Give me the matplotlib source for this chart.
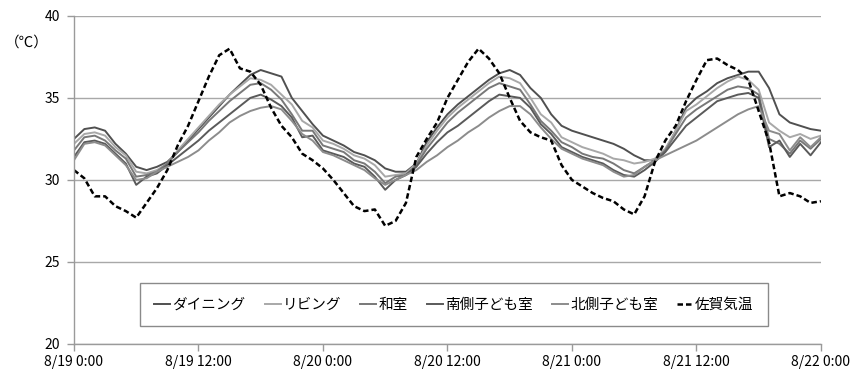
import matplotlib
from matplotlib import pyplot as plt
import numpy as np

matplotlib.rcParams['font.family'] = ['Noto Sans CJK JP', 'DejaVu Sans']

# 8/19 0:00 からの経過時間 [h]（1時間ごと）
hours = np.arange(73)
tick_hours = [0, 12, 24, 36, 48, 60, 72]
tick_labels = ["8/19 0:00", "8/19 12:00", "8/20 0:00", "8/20 12:00",
               "8/21 0:00", "8/21 12:00", "8/22 0:00"]

dining = [32.5, 33.1, 33.2, 33.0, 32.2, 31.6, 30.8, 30.6, 30.8, 31.1,
          31.7, 32.4, 33.1, 33.8, 34.5, 35.2, 35.8, 36.4, 36.7, 36.5,
          36.3, 35.0, 34.2, 33.4, 32.7, 32.4, 32.1, 31.7, 31.5, 31.2,
          30.7, 30.5, 30.5, 31.0, 32.3, 33.2, 34.0, 34.6, 35.1, 35.6,
          36.1, 36.5, 36.7, 36.4, 35.6, 35.0, 34.0, 33.3, 33.0, 32.8,
          32.6, 32.4, 32.2, 31.9, 31.5, 31.2, 31.2, 31.8, 33.0, 34.4,
          35.0, 35.4, 35.9, 36.2, 36.4, 36.6, 36.6, 35.6, 34.0, 33.5,
          33.3, 33.1, 33.0]
living = [32.2, 32.8, 32.9, 32.7, 32.0, 31.5, 30.5, 30.4, 30.6, 31.0,
          31.8, 32.5, 33.2, 33.9, 34.6, 35.2, 35.7, 36.2, 36.1, 35.8,
          35.2, 34.6, 33.6, 33.2, 32.4, 32.2, 31.9, 31.5, 31.3, 30.9,
          30.2, 30.3, 30.4, 31.0, 32.1, 33.0, 33.8, 34.4, 34.9, 35.4,
          35.9, 36.3, 36.2, 35.9, 35.0, 34.0, 33.5, 32.6, 32.3, 32.0,
          31.8, 31.6, 31.3, 31.2, 31.0, 31.1, 31.3, 31.9, 33.0, 34.2,
          34.6, 35.1, 35.6, 36.0, 36.3, 36.1, 35.5, 33.5, 33.0, 32.6,
          32.8, 32.5, 32.7]
washitsu = [31.8, 32.6, 32.7, 32.4, 31.8, 31.3, 30.2, 30.3, 30.5, 31.0,
            31.7, 32.3, 32.9, 33.6, 34.2, 34.8, 35.3, 35.8, 35.9, 35.5,
            34.9, 34.0, 33.0, 33.0, 32.1, 31.9, 31.7, 31.2, 31.0, 30.5,
            29.8, 30.2, 30.3, 30.9, 31.9, 32.7, 33.5, 34.1, 34.6, 35.1,
            35.6, 35.9, 35.7, 35.5, 34.6, 33.6, 33.0, 32.3, 32.0, 31.6,
            31.4, 31.3, 31.0, 30.6, 30.4, 30.8, 31.2, 31.8, 32.8, 33.8,
            34.3, 34.7, 35.1, 35.5, 35.7, 35.6, 35.2, 32.5, 32.2, 31.6,
            32.4, 31.9, 32.5]
south_kids = [31.4, 32.3, 32.4, 32.2, 31.6, 31.0, 29.7, 30.2, 30.4, 30.9,
              31.4, 31.9, 32.4, 33.0, 33.5, 34.0, 34.5, 35.0, 35.2, 34.9,
              34.5, 33.8, 32.6, 32.7, 31.8, 31.6, 31.4, 31.0, 30.8, 30.2,
              29.4, 30.0, 30.3, 30.8, 31.6, 32.3, 32.9, 33.3, 33.8, 34.3,
              34.8, 35.2, 35.1, 35.0, 34.4, 33.4, 32.8, 32.0, 31.7, 31.4,
              31.2, 31.0, 30.6, 30.3, 30.2, 30.6, 31.1, 31.7, 32.5, 33.3,
              33.8, 34.3, 34.8, 35.0, 35.2, 35.3, 35.0, 32.0, 32.4, 31.4,
              32.2, 31.5, 32.3]
north_kids = [31.2, 32.2, 32.3, 32.1, 31.5, 30.9, 30.0, 30.1, 30.5, 30.8,
              31.1, 31.4, 31.8, 32.4, 32.9, 33.5, 33.9, 34.2, 34.4, 34.5,
              34.3, 33.6, 32.8, 32.4, 31.7, 31.5, 31.2, 30.9, 30.6, 30.1,
              29.7, 30.0, 30.3, 30.6, 31.1, 31.5, 32.0, 32.4, 32.9, 33.3,
              33.8, 34.2, 34.5, 34.5, 34.0, 33.2, 32.5, 31.9, 31.6, 31.3,
              31.1, 30.9, 30.5, 30.2, 30.3, 30.8, 31.2, 31.5, 31.8, 32.1,
              32.4, 32.8, 33.2, 33.6, 34.0, 34.3, 34.5, 33.0, 32.8, 31.8,
              32.6, 32.0, 32.6]
saga_air = [30.6, 30.1, 29.0, 29.0, 28.4, 28.1, 27.7, 28.6, 29.5, 30.6,
            32.1, 33.3, 34.8, 36.3, 37.6, 38.0, 36.8, 36.6, 35.8, 34.4,
            33.3, 32.6, 31.6, 31.2, 30.7, 30.0, 29.2, 28.4, 28.1, 28.2,
            27.2, 27.5, 28.6, 31.4, 32.5, 33.5, 35.0, 36.1, 37.2, 38.0,
            37.4, 36.5, 35.0, 33.6, 32.9, 32.6, 32.4, 30.9, 30.0, 29.6,
            29.2, 28.9, 28.7, 28.2, 27.9, 29.0, 31.1, 32.4, 33.3, 34.8,
            36.1, 37.3, 37.4, 37.0, 36.7, 36.1, 34.2, 32.3, 29.0, 29.2,
            29.0, 28.6, 28.7]

fig = plt.figure(figsize=(8.58, 3.78), dpi=100)
ax = fig.add_axes([0.0862, 0.090, 0.8706, 0.868])

ax.plot(hours, dining, color="#505050", lw=1.4, label="ダイニング")
ax.plot(hours, living, color="#a8a8a8", lw=1.4, label="リビング")
ax.plot(hours, washitsu, color="#787878", lw=1.4, label="和室")
ax.plot(hours, south_kids, color="#5a5a5a", lw=1.4, label="南側子ども室")
ax.plot(hours, north_kids, color="#8c8c8c", lw=1.4, label="北側子ども室")
ax.plot(hours, saga_air, color="black", lw=1.8, linestyle=(0, (2.2, 1.2)),
        label="佐賀気温")

ax.set_xlim(0, 72)
ax.set_ylim(20, 40)
ax.set_yticks([20, 25, 30, 35, 40])
ax.set_xticks(tick_hours)
ax.set_xticklabels(tick_labels)
ax.tick_params(axis="both", colors="#9a9a9a", labelcolor="black",
               labelsize=10, length=5, width=1)
ax.tick_params(axis="x", pad=3)
ax.tick_params(axis="y", pad=5)

ax.grid(axis="y", color="#a8a8a8", lw=1)
ax.set_axisbelow(True)
for side in ["top", "right"]:
    ax.spines[side].set_visible(False)
for side in ["left", "bottom"]:
    ax.spines[side].set_color("#9a9a9a")
    ax.spines[side].set_linewidth(1)

fig.text(0.031, 0.886, "（℃）", ha="center", va="center", fontsize=10.5)

leg = ax.legend(loc="center", bbox_to_anchor=(0.529, 0.194),
                bbox_transform=fig.transFigure, ncol=6, fontsize=10.5,
                handlelength=1.1, handletextpad=0.15, columnspacing=1.3,
                borderpad=1.0, fancybox=False, framealpha=1)
leg.get_frame().set_edgecolor("#8a8a8a")
leg.get_frame().set_linewidth(1)

plt.savefig("out.png", dpi=100)
